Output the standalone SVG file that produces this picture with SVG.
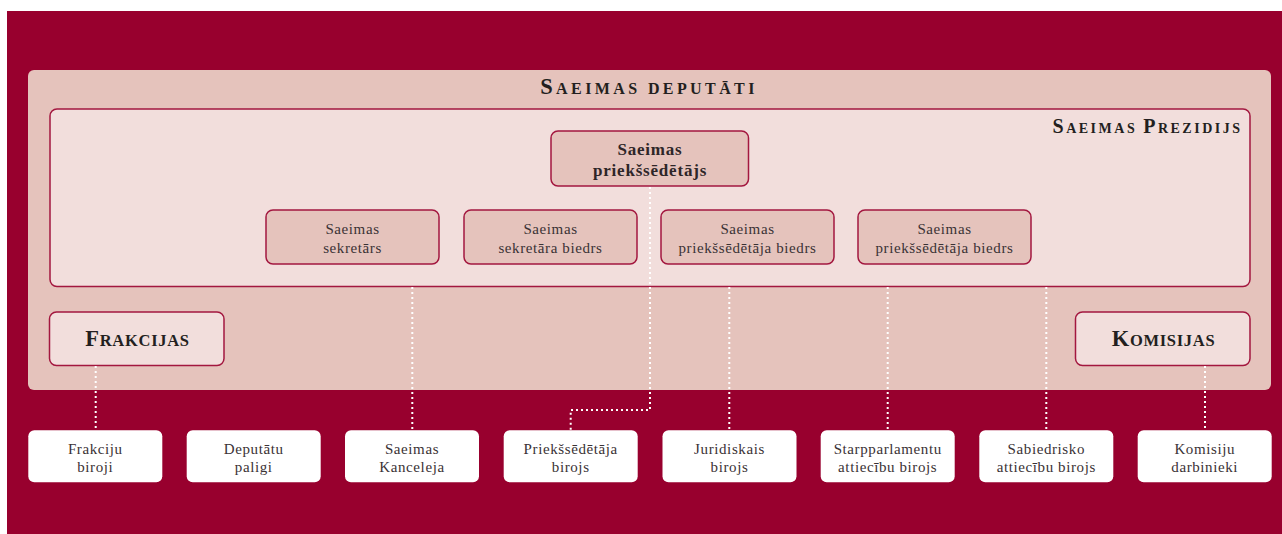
<svg xmlns="http://www.w3.org/2000/svg" width="1282" height="534" viewBox="0 0 1282 534">
<style>
.bg{fill:#98002e}
.panel{fill:#e5c3bc}
.inner{fill:#f2dedc;stroke:#a3173f;stroke-width:1.5}
.sec{fill:#e5c3bc;stroke:#a3173f;stroke-width:1.5}
.leaf{fill:#ffffff}
.head{font-family:"Liberation Serif",serif;font-weight:bold;fill:#231f20}
.body{font-family:"Liberation Serif",serif;font-size:15px;fill:#3a3235;text-anchor:middle;letter-spacing:0.6px}
.chair{font-family:"Liberation Serif",serif;font-size:17px;font-weight:bold;fill:#2e2628;text-anchor:middle;letter-spacing:0.8px}
.dot{fill:none;stroke:#ffffff;stroke-width:2;stroke-dasharray:2 3}
</style>
<rect class="bg" x="7" y="11" width="1275" height="523"/>
<g id="saeimas-deputati">
<rect class="panel" x="28" y="70" width="1243" height="320" rx="6"/>
<text class="head" x="649" y="94" text-anchor="middle" letter-spacing="3.4"><tspan font-size="22.5">S</tspan><tspan font-size="16">AEIMAS DEPUTĀTI</tspan></text>
</g>
<g id="saeimas-prezidijs">
<rect class="inner" x="50" y="109" width="1200" height="177.5" rx="7"/>
<text class="head" x="1242.5" y="133" text-anchor="end" letter-spacing="2.5"><tspan font-size="20">S</tspan><tspan font-size="14">AEIMAS </tspan><tspan font-size="20">P</tspan><tspan font-size="14">REZIDIJS</tspan></text>
</g>
<g id="priekssedetajs">
<rect class="sec" x="551" y="131" width="197.5" height="55" rx="7"/>
<text class="chair" x="650" y="155">Saeimas</text>
<text class="chair" x="650" y="175.5">priekšsēdētājs</text>
</g>
<g id="sekretars">
<rect class="sec" x="266" y="210" width="173" height="54" rx="7"/>
<text class="body" x="352.5" y="234">Saeimas</text>
<text class="body" x="352.5" y="253">sekretārs</text>
</g>
<g id="sekretara-biedrs">
<rect class="sec" x="464" y="210" width="173" height="54" rx="7"/>
<text class="body" x="550.5" y="234">Saeimas</text>
<text class="body" x="550.5" y="253">sekretāra biedrs</text>
</g>
<g id="priekssedetaja-biedrs-1">
<rect class="sec" x="661" y="210" width="173" height="54" rx="7"/>
<text class="body" x="747.5" y="234">Saeimas</text>
<text class="body" x="747.5" y="253">priekšsēdētāja biedrs</text>
</g>
<g id="priekssedetaja-biedrs-2">
<rect class="sec" x="858" y="210" width="173" height="54" rx="7"/>
<text class="body" x="944.5" y="234">Saeimas</text>
<text class="body" x="944.5" y="253">priekšsēdētāja biedrs</text>
</g>
<g id="frakcijas">
<rect class="inner" x="49.5" y="312" width="174.5" height="53.5" rx="7"/>
<text class="head" x="137.5" y="346" text-anchor="middle" letter-spacing="0.7"><tspan font-size="22.5">F</tspan><tspan font-size="16.5">RAKCIJAS</tspan></text>
</g>
<g id="komisijas">
<rect class="inner" x="1075.5" y="312" width="174.5" height="53.5" rx="7"/>
<text class="head" x="1163.5" y="346" text-anchor="middle" letter-spacing="0.7"><tspan font-size="22.5">K</tspan><tspan font-size="16.5">OMISIJAS</tspan></text>
</g>
<g id="connectors">
<path class="dot" d="M95.7 366V430"/>
<path class="dot" d="M412.3 287V430"/>
<path class="dot" d="M650 187V410H570.7V430"/>
<path class="dot" d="M729.3 287V430"/>
<path class="dot" d="M887.7 287V430"/>
<path class="dot" d="M1046.3 287V430"/>
<path class="dot" d="M1205 366V430"/>
</g>
<g id="frakciju-biroji">
<rect class="leaf" x="28.3" y="430.3" width="134" height="52" rx="6"/>
<text class="body" x="95.3" y="453.5">Frakciju</text>
<text class="body" x="95.3" y="472">biroji</text>
</g>
<g id="deputatu-paligi">
<rect class="leaf" x="186.7" y="430.3" width="134" height="52" rx="6"/>
<text class="body" x="253.7" y="453.5">Deputātu</text>
<text class="body" x="253.7" y="472">paligi</text>
</g>
<g id="saeimas-kanceleja">
<rect class="leaf" x="345" y="430.3" width="134" height="52" rx="6"/>
<text class="body" x="412" y="453.5">Saeimas</text>
<text class="body" x="412" y="472">Kanceleja</text>
</g>
<g id="priekssedetaja-birojs">
<rect class="leaf" x="503.7" y="430.3" width="134" height="52" rx="6"/>
<text class="body" x="570.7" y="453.5">Priekšsēdētāja</text>
<text class="body" x="570.7" y="472">birojs</text>
</g>
<g id="juridiskais-birojs">
<rect class="leaf" x="662.5" y="430.3" width="134" height="52" rx="6"/>
<text class="body" x="729.5" y="453.5">Juridiskais</text>
<text class="body" x="729.5" y="472">birojs</text>
</g>
<g id="starpparlamentu-birojs">
<rect class="leaf" x="820.7" y="430.3" width="134" height="52" rx="6"/>
<text class="body" x="887.7" y="453.5">Starpparlamentu</text>
<text class="body" x="887.7" y="472">attiecību birojs</text>
</g>
<g id="sabiedrisko-birojs">
<rect class="leaf" x="979.3" y="430.3" width="134" height="52" rx="6"/>
<text class="body" x="1046.3" y="453.5">Sabiedrisko</text>
<text class="body" x="1046.3" y="472">attiecību birojs</text>
</g>
<g id="komisiju-darbinieki">
<rect class="leaf" x="1137.7" y="430.3" width="134" height="52" rx="6"/>
<text class="body" x="1204.7" y="453.5">Komisiju</text>
<text class="body" x="1204.7" y="472">darbinieki</text>
</g>
</svg>
